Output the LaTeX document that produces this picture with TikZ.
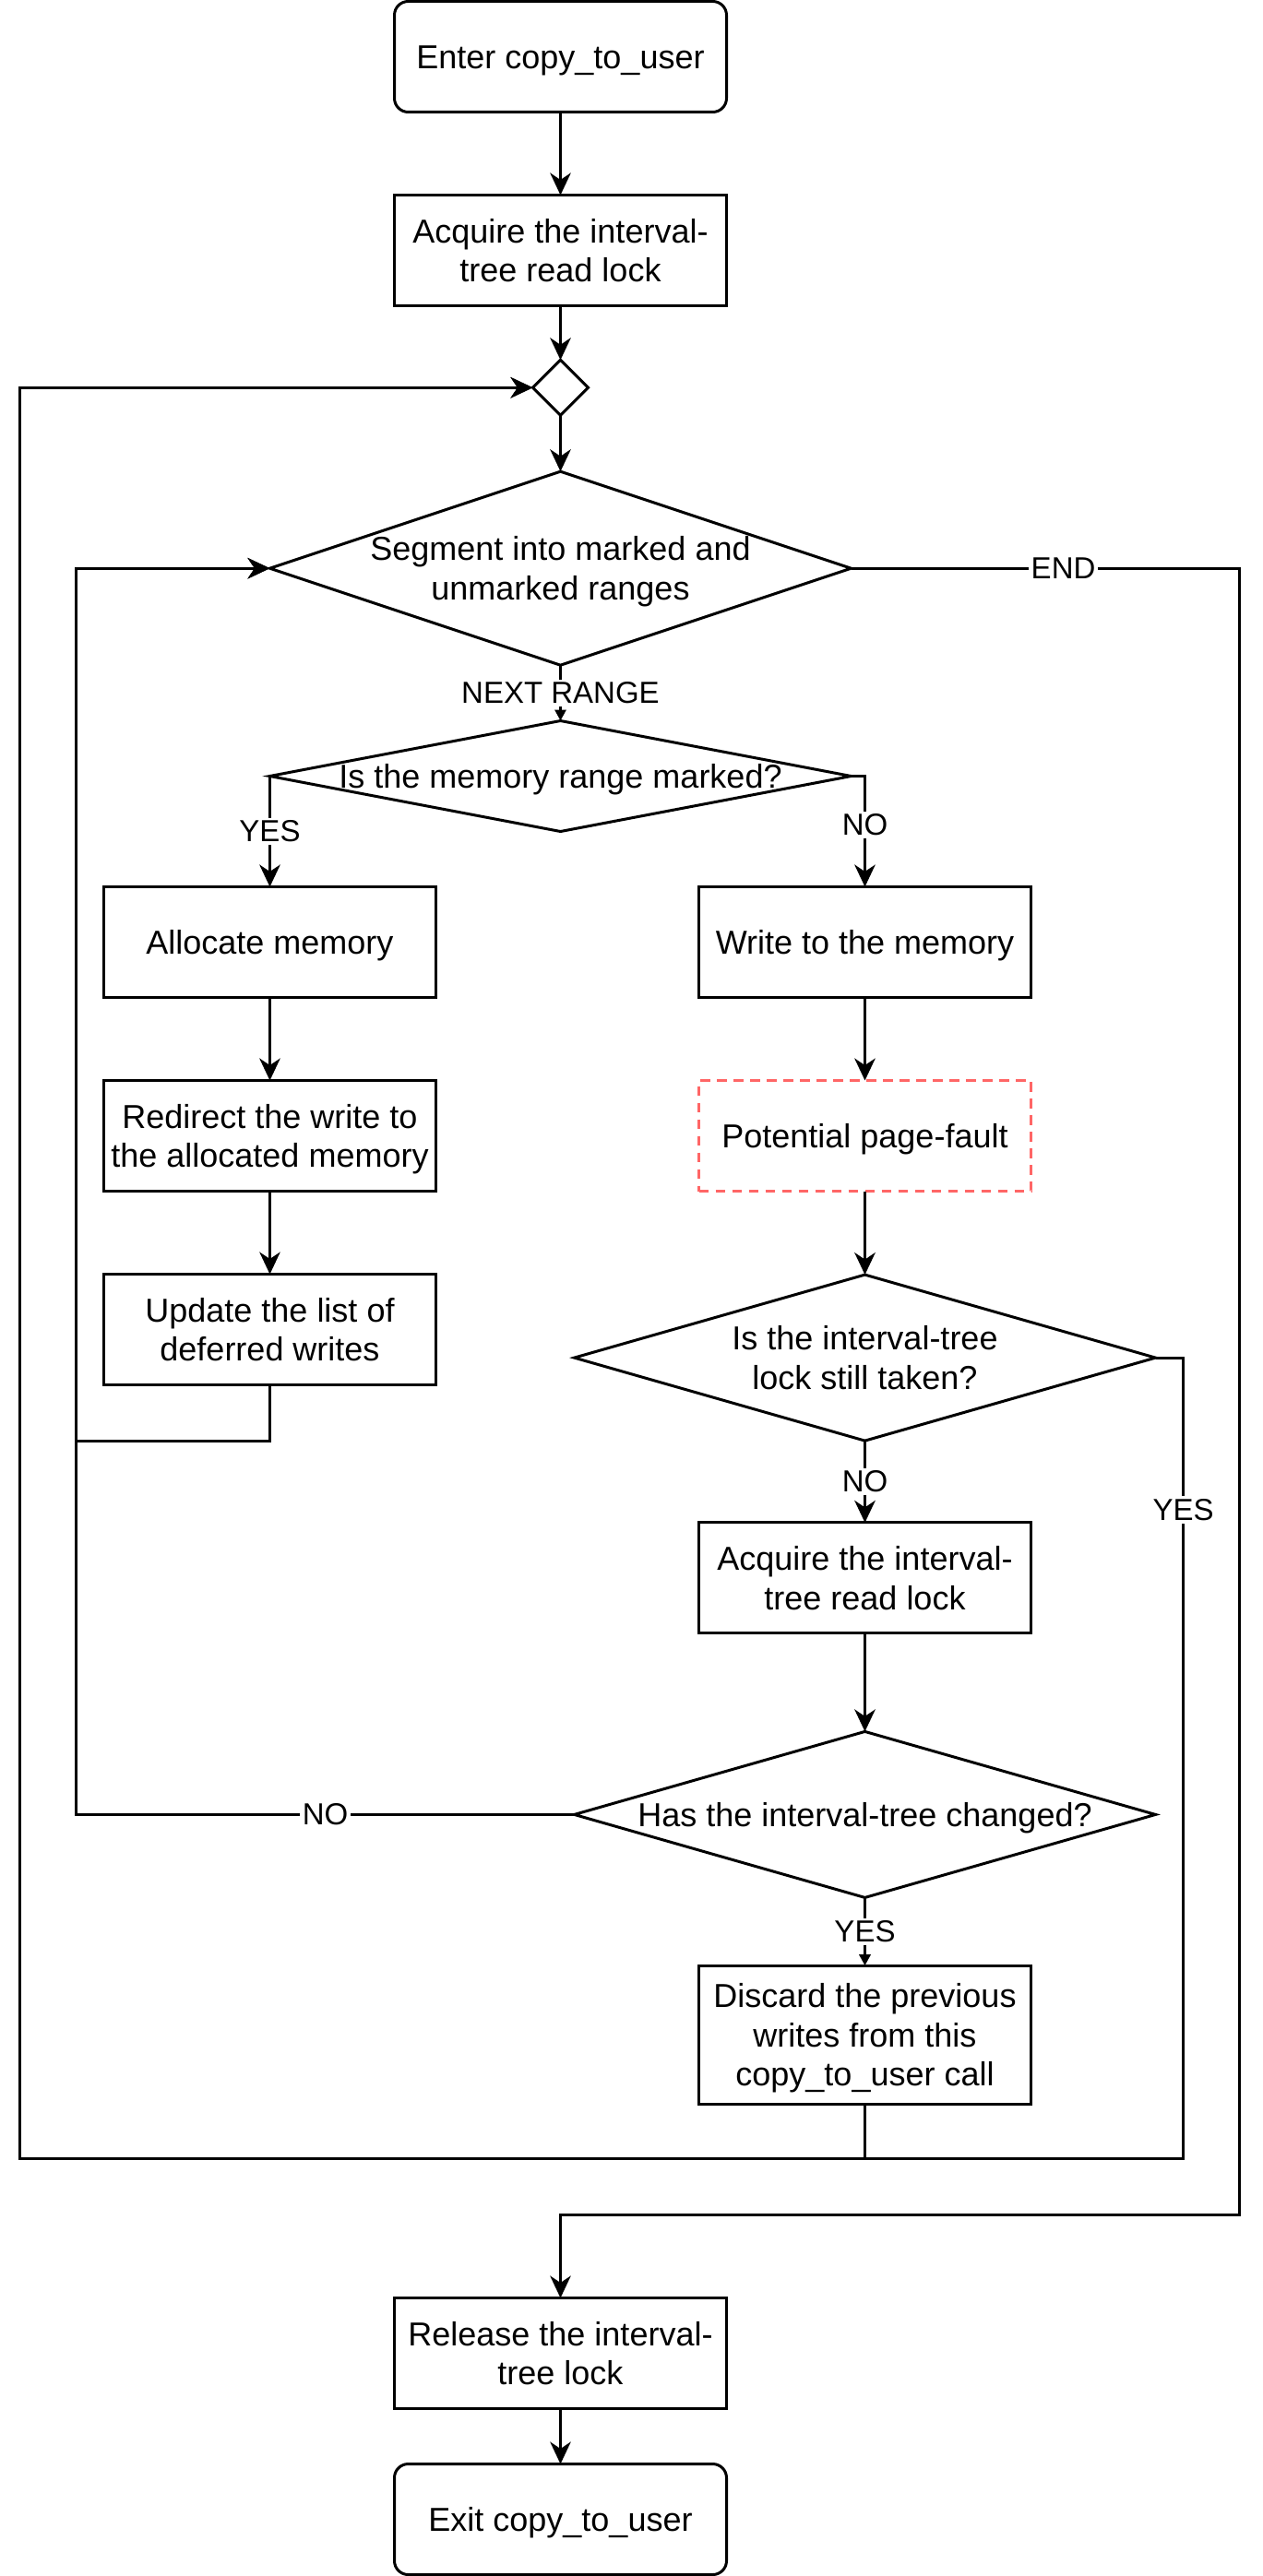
\documentclass[tikz,border=0pt]{standalone}
\usepackage{fontspec}
\setmainfont{Liberation Sans}
\usetikzlibrary{shapes.geometric,arrows.meta}
\definecolor{faultred}{HTML}{FF6666}

\begin{document}
\begin{tikzpicture}[x=1pt,y=-1pt,line width=1pt,font=\fontsize{12}{14.2}\selectfont,
  one/.style={text height=11pt,text depth=2.4pt},
  two/.style={text height=25.2pt,text depth=2.4pt},
  three/.style={text height=39.4pt,text depth=2.4pt},
  box/.style={draw,rectangle,minimum width=120pt,minimum height=40pt,align=center,inner sep=0pt,outer sep=0pt},
  term/.style={box,one,rounded corners=5pt},
  fault/.style={box,one,draw=faultred,dash pattern=on 3.5pt off 2.5pt},
  decide/.style={draw,diamond,inner sep=0pt,outer sep=0pt},
  lbl/.style={fill=white,font=\fontsize{11}{13}\selectfont,inner sep=1pt},
  arr/.style={-{Stealth[length=8pt,width=7.5pt,inset=2.5pt]}},
  smalltip/.style={-{Triangle[length=4pt,width=4pt]}}]
\useasboundingbox (0,0) rectangle (456,931);

\node[term] (enter) at (202.5,20.5) {Enter copy\_to\_user};
\node[box,two] (acqfirst) at (202.5,90.5) {Acquire the interval-\\tree read lock};
\node[decide,minimum width=20pt,minimum height=20pt] (join) at (202.5,140.1) {};
\node[decide,minimum width=210pt,minimum height=70pt,
  label={[two,align=center]center:Segment into marked and\\unmarked ranges}] (segment) at (202.5,205.4) {};
\node[decide,minimum width=210pt,minimum height=40pt,
  label={[one]center:Is the memory range marked?}] (marked) at (202.5,280.5) {};

% left column: marked range
\node[box,one] (alloc) at (97.5,340.5) {Allocate memory};
\node[box,two] (redirect) at (97.5,410.5) {Redirect the write to\\the allocated memory};
\node[box,two] (update) at (97.5,480.5) {Update the list of\\deferred writes};

% right column: unmarked range
\node[box,one] (writemem) at (312.5,340.5) {Write to the memory};
\node[fault] (pagefault) at (312.5,410.5) {Potential page-fault};
\node[decide,minimum width=210pt,minimum height=60pt,
  label={[two,align=center]center:Is the interval-tree\\lock still taken?}] (lockheld) at (312.5,490.7) {};
\node[box,two] (acqagain) at (312.5,570.3) {Acquire the interval-\\tree read lock};
\node[decide,minimum width=210pt,minimum height=60pt,
  label={[one]center:Has the interval-tree changed?}] (changed) at (312.5,655.8) {};
\node[box,three,minimum height=50pt] (discard) at (312.5,735.4) {Discard the previous\\writes from this\\copy\_to\_user call};

\node[box,two] (release) at (202.5,850.5) {Release the interval-\\tree lock};
\node[term] (exit) at (202.5,910.5) {Exit copy\_to\_user};

\draw[arr] (enter) -- (acqfirst);
\draw[arr] (acqfirst) -- (join);
\draw[arr] (join) -- (segment);
\draw[smalltip] (segment.south) -- node[lbl]{NEXT RANGE} (marked.north);
\draw[arr] (marked.west) -- node[lbl]{YES} (alloc.north);
\draw[arr] (marked.east) -| node[lbl,pos=0.72]{NO} (writemem.north);
\draw[arr] (alloc) -- (redirect);
\draw[arr] (redirect) -- (update);
\draw[arr] (writemem) -- (pagefault);
\draw[arr] (pagefault) -- (lockheld);
\draw[arr] (lockheld.south) -- node[lbl]{NO} (acqagain.north);
\draw[arr] (acqagain) -- (changed);
\draw[smalltip] (changed.south) -- node[lbl]{YES} (discard.north);

% back to the next range
\draw[arr] (update.south) |- (27.5,520.7) |- (segment.west);
\draw[arr] (changed.west) -- node[lbl]{NO} (27.5,655.8) |- (segment.west);

% restart from the top
\draw[arr] (lockheld.east) -- (427.5,490.7) -- node[lbl,pos=0.19]{YES} (427.5,780.2) -- (7,780.2) |- (join.west);
\draw[arr] (discard.south) |- (7,780.2) |- (join.west);

% all ranges done
\draw[arr] (segment.east) -- node[lbl,pos=0.547]{END} (447.7,205.4) -- (447.7,800.4) -| (release.north);
\draw[arr] (release) -- (exit);
\end{tikzpicture}
\end{document}
